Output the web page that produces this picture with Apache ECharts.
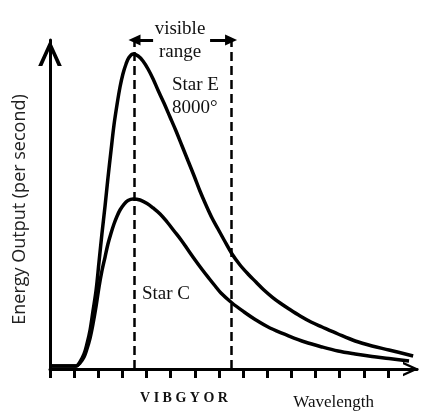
<!DOCTYPE html>
<html>
<head>
<meta charset="utf-8">
<script src="https://cdn.jsdelivr.net/npm/echarts@6/dist/echarts.min.js"></script>
<style>
html,body{margin:0;padding:0;background:#fff;}
#chart{width:422px;height:411px;}
</style>
</head>
<body>
<div id="chart"></div>
<script>
// Wavelength in tick units (one tick per unit), energy in relative units (0-100)
var starEx = [0, 0.7, 1.08, 1.24, 1.41, 1.53, 1.66, 1.78, 1.91, 2.03, 2.15, 2.28, 2.40, 2.53, 2.65, 2.78, 2.90, 3.02, 3.15, 3.27, 3.44,
              3.65, 3.85, 4.06, 4.27, 4.47, 4.72, 4.97, 5.22, 5.47, 5.72, 5.97, 6.21, 6.46, 6.71, 6.96, 7.21, 7.54, 7.87, 8.20, 8.53, 8.86,
              9.20, 9.53, 9.90, 10.36, 10.81, 11.27, 11.93, 12.64, 13.34, 14.04, 15.04];
var starEy = [0.9, 0.9, 0.91, 2.13, 4.56, 7.60, 11.85, 17.63, 24.01, 32.52, 41.03, 49.54, 58.05, 66.57, 74.16, 80.55, 85.71, 89.67, 92.71, 94.68, 95.74,
              95.14, 93.62, 91.19, 88.15, 84.80, 80.85, 76.60, 72.34, 67.78, 63.22, 58.66, 54.10, 49.85, 45.90, 42.55, 39.21, 34.95, 31.61, 28.88, 26.44, 24.01,
              21.88, 20.06, 18.24, 16.11, 14.29, 12.77, 10.64, 8.51, 6.99, 5.78, 3.95];
var starCx = [0, 0.7, 1.08, 1.24, 1.41, 1.53, 1.66, 1.78, 1.91, 2.03, 2.15, 2.28, 2.40, 2.53, 2.65, 2.78, 2.90, 3.07, 3.23, 3.44,
              3.73, 4.02, 4.27, 4.56, 4.85, 5.14, 5.43, 5.72, 6.01, 6.30, 6.59, 6.84, 7.08, 7.54, 8.04, 8.53, 9.11, 9.90, 10.56, 11.27,
              11.93, 12.64, 13.34, 14.04, 14.87];
var starCy = [0.9, 0.9, 0.91, 1.82, 3.65, 6.08, 9.42, 13.68, 19.15, 24.92, 29.79, 34.04, 37.99, 41.34, 44.07, 46.50, 48.33, 50.15, 51.22, 51.67,
              51.37, 50.30, 48.94, 47.11, 44.68, 41.95, 39.21, 36.17, 33.13, 30.24, 27.51, 25.23, 23.10, 20.06, 17.33, 14.89, 12.46, 10.03, 8.21, 6.69,
              5.47, 4.56, 3.80, 3.19, 2.43];
var tickValues = [0, 1, 2, 3, 4, 5, 6, 7, 8, 9, 10, 11, 12, 13, 14];
var labelValues = [5.55, 11.75];
var labelTexts = ['V I B G Y O R', 'Wavelength'];
var visibleRange = [3.5, 7.5];
var arrowStarts = [4.27, 6.63];

function pairs(xs, ys) { return xs.map(function (x, i) { return [x, ys[i]]; }); }

var chevron = 'path://M0,22 L10,0 L20,22 L16.5,22 L10,7.5 L3.5,22 Z';
var serif = "'Liberation Serif', 'DejaVu Serif', serif";

var chart = echarts.init(document.getElementById('chart'));
chart.setOption({
  backgroundColor: '#fff',
  animation: false,
  grid: { left: 50, right: 5, top: 40, bottom: 42 },
  xAxis: {
    type: 'value', min: 0, max: 15.2,
    splitLine: { show: false },
    axisLine: { lineStyle: { color: '#000', width: 3 }, symbol: ['none', chevron], symbolSize: [20, 16], symbolOffset: [0, -6] },
    axisTick: { show: true, customValues: tickValues, length: 9, lineStyle: { color: '#000', width: 3 } },
    axisLabel: {
      show: true, customValues: labelValues, margin: 22,
      formatter: function (v) {
        var i = labelValues.indexOf(v);
        return i === 0 ? '{a|' + labelTexts[0] + '}' : '{b|' + labelTexts[1] + '}';
      },
      rich: {
        a: { fontFamily: serif, fontSize: 14, color: '#111', fontWeight: 'bold' },
        b: { fontFamily: serif, fontSize: 17, color: '#111', padding: [3, 0, 0, 0] }
      }
    }
  },
  yAxis: {
    type: 'value', min: 0, max: 100,
    splitLine: { show: false },
    axisTick: { show: false }, axisLabel: { show: false },
    axisLine: { lineStyle: { color: '#000', width: 3 }, symbol: ['none', chevron], symbolSize: [26, 26], symbolOffset: [0, -13] },
    name: 'Energy Output (per second)', nameLocation: 'middle', nameGap: 21,
    nameTextStyle: { fontFamily: "'Open Sans', 'Noto Sans', sans-serif", fontSize: 18, color: '#222', padding: [0, 10, 0, 0] }
  },
  series: [
    {
      name: 'Star E', type: 'line', data: pairs(starEx, starEy), smooth: 0.35,
      showSymbol: false, lineStyle: { color: '#000', width: 3.5 },
      markLine: {
        silent: true, symbol: ['none', 'none'], label: { show: false },
        lineStyle: { color: '#000', width: 2.5, type: [9, 5] },
        data: visibleRange.map(function (v) { return { xAxis: v }; })
      }
    },
    {
      name: 'Star C', type: 'line', data: pairs(starCx, starCy), smooth: 0.35,
      showSymbol: false, lineStyle: { color: '#000', width: 3.5 },
      markLine: {
        silent: true, symbol: ['none', 'triangle'], symbolSize: [11, 12], label: { show: false },
        lineStyle: { color: '#000', width: 3, type: 'solid' },
        data: arrowStarts.map(function (s, i) { return [{ coord: [s, 100] }, { coord: [visibleRange[i], 100] }]; })
      }
    }
  ],
  graphic: [
    { type: 'text', x: 180, y: 29, style: { text: 'visible', font: "19px " + serif, fill: '#111', textAlign: 'center', textVerticalAlign: 'middle' } },
    { type: 'text', x: 180, y: 52, style: { text: 'range', font: "19px " + serif, fill: '#111', textAlign: 'center', textVerticalAlign: 'middle' } },
    { type: 'text', x: 172, y: 85, style: { text: 'Star E', font: "19px " + serif, fill: '#111', textAlign: 'left', textVerticalAlign: 'middle' } },
    { type: 'text', x: 172, y: 108, style: { text: '8000°', font: "19px " + serif, fill: '#111', textAlign: 'left', textVerticalAlign: 'middle' } },
    { type: 'text', x: 142, y: 294, style: { text: 'Star C', font: "19px " + serif, fill: '#111', textAlign: 'left', textVerticalAlign: 'middle' } }
  ]
});
</script>
</body>
</html>
